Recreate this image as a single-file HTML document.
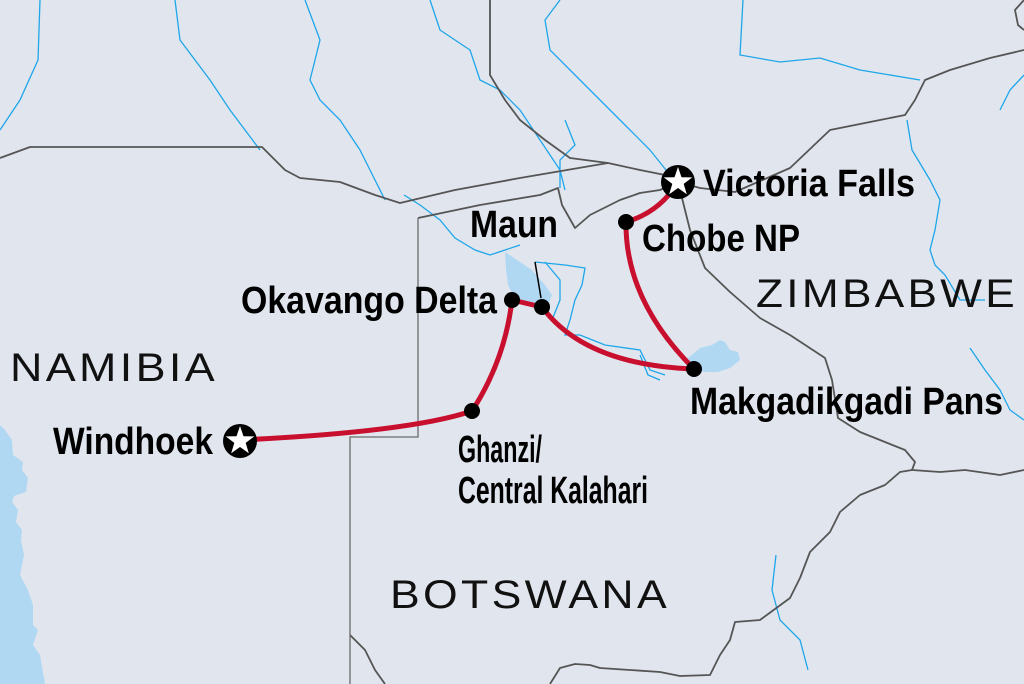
<!DOCTYPE html>
<html><head><meta charset="utf-8"><style>
html,body{margin:0;padding:0;background:#e1e6ee;}
svg{display:block}
.b{font-family:"Liberation Sans",sans-serif;font-weight:bold;fill:#000;font-size:38px}
.c{font-family:"Liberation Sans",sans-serif;fill:#111;font-size:40px;letter-spacing:3px}
</style></head><body>
<svg width="1024" height="684" viewBox="0 0 1024 684" xmlns="http://www.w3.org/2000/svg">
<rect width="1024" height="684" fill="#e1e6ee"/>
<path d="M0,425 L5,430 L12,440 L13,455 L23,462 L22,470 L28,478 L26,492 L14,496 L12,502 L18,510 L16,522 L22,530 L21,540 L24,555 L20,575 L28,590 L33,605 L33,625 L38,630 L33,645 L40,655 L45,684 L0,684 Z" fill="#b1d8f3"/>
<g fill="none" stroke="#1ea6ea" stroke-width="1.3">
<path d="M40,0 L38,60 L20,100 L0,130"/>
<path d="M175,0 L180,40 L210,80 L230,110 L260,150"/>
<path d="M305,0 L320,40 L310,80 L320,100 L340,120 L360,150 L370,170 L385,200"/>
<path d="M430,0 L440,30 L470,50 L480,80 L500,90 L520,110 L540,140 L560,170 L565,190"/>
<path d="M560,0 L545,20 L550,50 L590,90 L620,120 L650,150 L670,175"/>
<path d="M743,0 L740,55 L780,62 L820,58 L860,70 L920,80"/>
<path d="M1024,75 L1010,90 L1000,110"/>
<path d="M907,120 L912,150 L930,180 L940,200 L935,230 L930,250 L935,265 L945,275 L960,300 L985,300"/>
<path d="M970,348 L985,370 L1000,390 L1010,410 L1024,420"/>
<path d="M404,195 L420,205 L440,220 L455,238 L475,250 L490,255 L520,245"/>
<path d="M535,262 L565,265 L585,268 L582,285 L575,300 L570,320 L565,335 L580,335 L605,345 L640,350 L650,370 L665,375"/>
<path d="M545,262 L560,280 L560,300 L552,320"/>
<path d="M640,355 L648,375 L660,380"/>
<path d="M776,555 L772,590 L780,620 L800,640 L808,670"/>
<path d="M560,188 L560,160 L575,145 L565,120"/>
</g>
<path d="M505,252 L520,262 L532,270 L545,285 L552,295 L548,305 L530,305 L515,298 L508,285 L506,270 Z" fill="#b1d8f3"/>
<path d="M688,358 L700,348 L712,345 L720,340 L725,342 L730,350 L738,352 L740,360 L730,368 L718,372 L705,372 L692,368 Z" fill="#b1d8f3"/>
<g fill="none" stroke="#555" stroke-width="1.8" stroke-linejoin="round">
<path d="M0,158 L30,147 L262,147 L285,170 L300,178 L340,182 L375,195 L400,203 L455,190 L520,178 L608,163 L640,170 L665,175 L678,182"/>
<path d="M490,0 L490,75 L505,100 L520,120 L545,140 L570,158 L608,163"/>
<path d="M418,218 L480,205 L540,195 L558,188 L562,205 L575,228 L590,215 L620,200 L640,193 L660,190 L678,182"/>
<path d="M678,182 L690,230 L705,268 L730,292 L760,318 L790,335 L825,358 L832,380 L838,418 L860,432 L905,450 L915,462 L912,470 L940,472 L965,470 L1000,475 L1024,470"/>
<path d="M678,182 L700,188 L735,192 L790,168 L830,130 L880,120 L905,115 L915,100 L925,80 L950,70 L990,58 L1024,50"/>
<path d="M912,470 L900,472 L885,485 L860,495 L840,512 L830,532 L810,552 L800,578 L790,598 L760,620 L735,622 L730,640 L720,655 L710,675 L680,676 L660,672 L630,670 L600,668 L590,665 L575,664 L560,668 L550,684"/>
<path d="M1024,0 L1015,10 L1018,25 L1024,30"/>
<path d="M350,635 L365,650 L375,670 L385,684"/>
</g>
<g fill="none" stroke="#6a6a6a" stroke-width="1.3">
<path d="M418,218 L418,437 L350,437 L350,684"/>
</g>
<line x1="535" y1="262" x2="541" y2="298" stroke="#000" stroke-width="1.5"/>
<g fill="none" stroke="#c8102e" stroke-width="5" stroke-linecap="round">
<path d="M240,440 Q410,432 472,411"/>
<path d="M472,411 Q505,360 512,300"/>
<path d="M512,300 L542,307"/>
<path d="M542,307 Q585,365 694,369"/>
<path d="M694,369 Q625,300 626,222"/>
<path d="M626,222 Q660,212 678,182"/>
</g>
<g fill="#000">
<circle cx="626" cy="222" r="8"/>
<circle cx="542" cy="307" r="8"/>
<circle cx="512" cy="300" r="8"/>
<circle cx="472" cy="411" r="8"/>
<circle cx="694" cy="369" r="8"/>
</g>
<circle cx="678" cy="182" r="17" fill="#000"/>
<polygon fill="#fff" points="678,167 681.5,177.2 692.3,177.4 683.7,183.9 686.8,194.2 678,188 669.2,194.2 672.3,183.9 663.7,177.4 674.5,177.2"/>
<circle cx="240" cy="441" r="17" fill="#000"/>
<polygon fill="#fff" points="240,426 243.5,436.2 254.3,436.4 245.7,442.9 248.8,453.2 240,447 231.2,453.2 234.3,442.9 225.7,436.4 236.5,436.2"/>
<text class="b" x="703" y="196" textLength="212" lengthAdjust="spacingAndGlyphs">Victoria Falls</text>
<text class="b" x="642" y="251" textLength="158" lengthAdjust="spacingAndGlyphs">Chobe NP</text>
<text class="b" x="470" y="237" textLength="88" lengthAdjust="spacingAndGlyphs">Maun</text>
<text class="b" x="241" y="313" textLength="256" lengthAdjust="spacingAndGlyphs">Okavango Delta</text>
<text class="b" x="690" y="414" textLength="313" lengthAdjust="spacingAndGlyphs">Makgadikgadi Pans</text>
<text class="b" x="53" y="454" textLength="160" lengthAdjust="spacingAndGlyphs">Windhoek</text>
<text class="b" x="458" y="462" textLength="84" lengthAdjust="spacingAndGlyphs">Ghanzi/</text>
<text class="b" x="458" y="503" textLength="190" lengthAdjust="spacingAndGlyphs">Central Kalahari</text>
<text class="c" x="10" y="381" textLength="208" lengthAdjust="spacingAndGlyphs">NAMIBIA</text>
<text class="c" x="756" y="307" textLength="262" lengthAdjust="spacingAndGlyphs">ZIMBABWE</text>
<text class="c" x="390" y="608" textLength="280" lengthAdjust="spacingAndGlyphs">BOTSWANA</text>
</svg>
</body></html>
